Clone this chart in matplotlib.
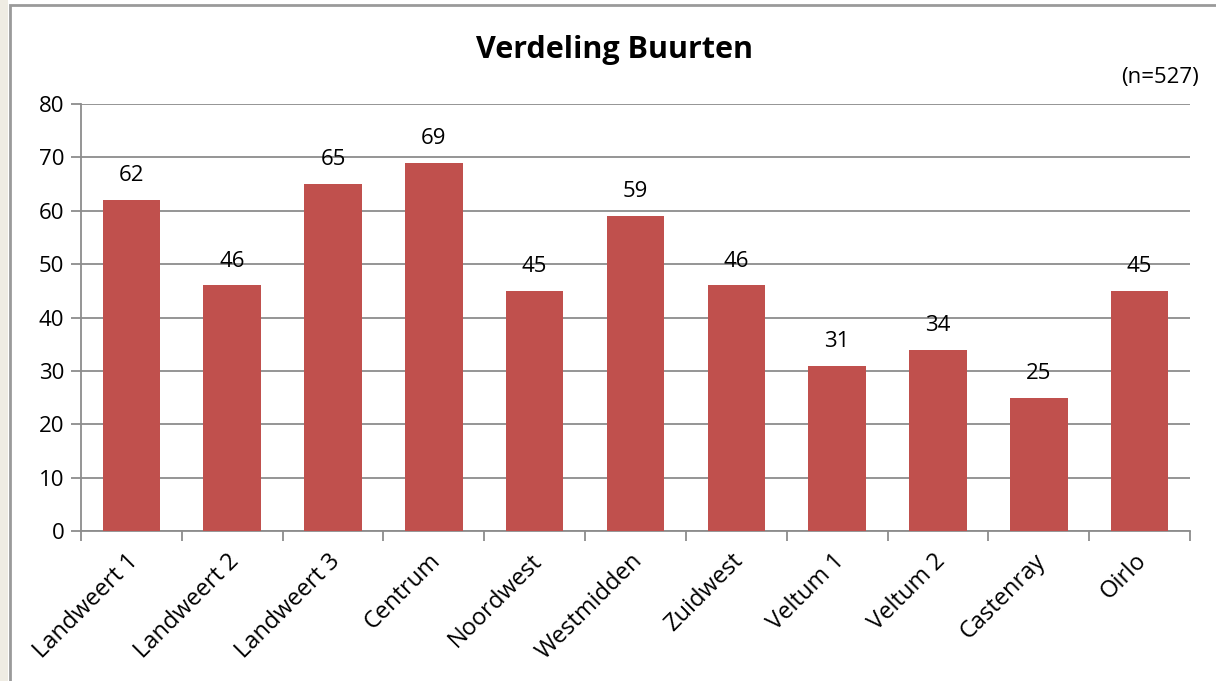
import matplotlib.pyplot as plt
import numpy as np
from matplotlib.patches import Rectangle

# data
buurten = ['Landweert 1', 'Landweert 2', 'Landweert 3', 'Centrum', 'Noordwest',
           'Westmidden', 'Zuidwest', 'Veltum 1', 'Veltum 2', 'Castenray', 'Oirlo']
aantal = [62, 46, 65, 69, 45, 59, 46, 31, 34, 25, 45]

plt.rcParams['font.family'] = ['Open Sans', 'DejaVu Sans']

fig = plt.figure(figsize=(12.16, 6.81), dpi=100)
# frame of the chart object
fig.patches.append(Rectangle((0, 0), 8 / 1216, 1, transform=fig.transFigure,
                             facecolor='#efece3', edgecolor='none'))
fig.patches.append(Rectangle((9.5 / 1216, -0.1), 1.2, 1.1 - 5.5 / 681, transform=fig.transFigure,
                             facecolor='none', edgecolor='#9a9a9a', linewidth=2))

ax = fig.add_axes([81 / 1216, 1 - 531 / 681, (1190 - 81) / 1216, (531 - 104) / 681])
x = np.arange(len(buurten))
ax.bar(x, aantal, width=0.57, color='#c0504d', zorder=3)
for xi, v in zip(x, aantal):
    ax.text(xi, v + 2.6, str(v), ha='center', va='bottom', fontsize=16)

ax.set_xlim(-0.5, len(buurten) - 0.5)
ax.set_ylim(0, 80)
ax.set_yticks(range(0, 81, 10))
ax.grid(axis='y', color='#8c8c8c', linewidth=1.3, zorder=0)
for s in ['top', 'right']:
    ax.spines[s].set_visible(False)
for s in ['left', 'bottom']:
    ax.spines[s].set_color('#8c8c8c')
    ax.spines[s].set_linewidth(1.3)
ax.tick_params(axis='y', length=7, color='#8c8c8c', width=1.3, labelsize=16, pad=5)
ax.set_xticks(np.arange(-0.5, len(buurten), 1))
ax.set_xticklabels([])
ax.set_xticks(x - 0.05, minor=True)
ax.set_xticklabels(buurten, minor=True, rotation=45, ha='right', rotation_mode='anchor', fontsize=17)
ax.tick_params(axis='x', which='major', length=7, color='#8c8c8c', width=1.3)
ax.tick_params(axis='x', which='minor', length=0, pad=13)

fig.text(614 / 1216, 1 - 50 / 681, 'Verdeling Buurten', ha='center', va='center',
         fontsize=22, fontweight='bold')
fig.text(1199 / 1216, 1 - 78 / 681, '(n=527)', ha='right', va='center', fontsize=16)

fig.savefig('out.png', dpi=100)
